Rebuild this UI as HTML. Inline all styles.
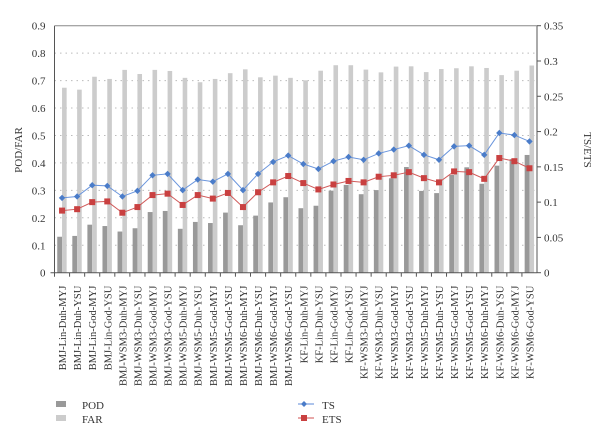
<!DOCTYPE html>
<html><head><meta charset="utf-8"><style>
body{margin:0;background:#fff}
svg{font-family:"Liberation Serif",serif;display:block}
</style></head><body>
<svg id="chart" width="600" height="444" viewBox="0 0 600 444" xmlns="http://www.w3.org/2000/svg">
<g id="grid"></g><g id="bars"></g><g id="lines"></g><g id="axes"></g><g id="labels"></g>
<g>
<rect x="56" y="401" width="10" height="6" fill="#999"/>
<text x="82" y="409" font-size="11" fill="#333">POD</text>
<rect x="56" y="415" width="10" height="6" fill="#ccc"/>
<text x="82" y="423" font-size="11" fill="#333">FAR</text>
<line x1="298" y1="404" x2="314" y2="404" stroke="#5b8ad8" stroke-width="1"/>
<path d="M304,401 L307,404 L304,407 L301,404Z" fill="#4a7cc9"/>
<text x="322" y="409" font-size="11" fill="#333">TS</text>
<line x1="298" y1="418" x2="314" y2="418" stroke="#d05050" stroke-width="1"/>
<rect x="301" y="415" width="6" height="6" fill="#c94040"/>
<text x="322" y="423" font-size="11" fill="#333">ETS</text>
</g>
<text transform="translate(22,150) rotate(-90)" text-anchor="middle" font-size="11" fill="#333">POD/FAR</text>
<text transform="translate(584,150) rotate(90)" text-anchor="middle" font-size="11" fill="#333">TS/ETS</text>
</svg>
<script>
const categories=["BMJ-Lin-Duh-MYJ","BMJ-Lin-Duh-YSU","BMJ-Lin-God-MYJ","BMJ-Lin-God-YSU","BMJ-WSM3-Duh-MYJ","BMJ-WSM3-Duh-YSU","BMJ-WSM3-God-MYJ","BMJ-WSM3-God-YSU","BMJ-WSM5-Duh-MYJ","BMJ-WSM5-Duh-YSU","BMJ-WSM5-God-MYJ","BMJ-WSM5-God-YSU","BMJ-WSM6-Duh-MYJ","BMJ-WSM6-Duh-YSU","BMJ-WSM6-God-MYJ","BMJ-WSM6-God-YSU","KF-Lin-Duh-MYJ","KF-Lin-Duh-YSU","KF-Lin-God-MYJ","KF-Lin-God-YSU","KF-WSM3-Duh-MYJ","KF-WSM3-Duh-YSU","KF-WSM3-God-MYJ","KF-WSM3-God-YSU","KF-WSM5-Duh-MYJ","KF-WSM5-Duh-YSU","KF-WSM5-God-MYJ","KF-WSM5-God-YSU","KF-WSM6-Duh-MYJ","KF-WSM6-Duh-YSU","KF-WSM6-God-MYJ","KF-WSM6-God-YSU"];
const pod=[0.131,0.134,0.175,0.17,0.15,0.162,0.221,0.225,0.16,0.185,0.181,0.219,0.173,0.208,0.256,0.275,0.235,0.244,0.299,0.32,0.286,0.301,0.344,0.385,0.298,0.29,0.356,0.384,0.324,0.39,0.414,0.429];
const far=[0.674,0.667,0.714,0.706,0.739,0.724,0.739,0.735,0.71,0.694,0.706,0.727,0.741,0.712,0.718,0.71,0.701,0.736,0.756,0.756,0.74,0.73,0.751,0.752,0.731,0.742,0.745,0.752,0.746,0.72,0.736,0.755];
const ts=[0.106,0.108,0.124,0.123,0.108,0.116,0.138,0.14,0.117,0.132,0.129,0.14,0.117,0.14,0.157,0.166,0.154,0.147,0.158,0.164,0.16,0.169,0.1745,0.18,0.167,0.16,0.179,0.18,0.167,0.198,0.195,0.186];
const ets=[0.088,0.09,0.1,0.101,0.085,0.093,0.11,0.112,0.096,0.11,0.105,0.113,0.093,0.114,0.128,0.137,0.127,0.118,0.125,0.13,0.128,0.136,0.138,0.1425,0.134,0.128,0.1435,0.1425,0.133,0.1625,0.158,0.148];
const leftTicks=[0,0.1,0.2,0.3,0.4,0.5,0.6,0.7,0.8,0.9];
const rightTicks=[0,0.05,0.1,0.15,0.2,0.25,0.3,0.35];
const NS="http://www.w3.org/2000/svg";
const X0=54.5,X1=537,Y0=272.7,YT=25.7;
const step=(X1-X0)/categories.length;
const xc=i=>X0+step*(i+0.5);
const yL=v=>Y0-(v/0.9)*(Y0-YT);
const yR=v=>Y0-(v/0.35)*(Y0-YT);
function mk(tag,parent,attrs){const e=document.createElementNS(NS,tag);for(const k in attrs)e.setAttribute(k,attrs[k]);document.getElementById(parent).appendChild(e);return e;}
leftTicks.forEach((t,i)=>{
  if(t>0&&t<0.9){const g=mk('line','grid',{x1:X0,x2:X1,y1:yL(t),y2:yL(t),stroke:'#bbb','stroke-dasharray':'1.5,4'});
  
  }
  const tx=mk('text','axes',{x:X0-9,y:yL(t)+4,'text-anchor':'end','font-size':'11',fill:'#333'});
  
  
  tx.textContent=String(t);
});
rightTicks.forEach(t=>{
  const tx=mk('text','axes',{x:X1+7,y:yR(t)+4,'font-size':'11',fill:'#333'});
  
  
  tx.textContent=String(t);
  mk('line','axes',{x1:X1,x2:X1+4,y1:yR(t),y2:yR(t),stroke:'#555'});
});
mk('line','axes',{x1:X0,x2:X0,y1:YT,y2:Y0,stroke:'#555'});
mk('line','axes',{x1:X1,x2:X1,y1:YT,y2:Y0,stroke:'#555'});
mk('line','axes',{x1:X0,x2:X1,y1:YT,y2:YT,stroke:'#888'});
mk('line','axes',{x1:X0-4,x2:X1,y1:Y0,y2:Y0,stroke:'#555'});
categories.forEach((c,i)=>{
  mk('line','axes',{x1:X0+step*i,x2:X0+step*i,y1:Y0,y2:Y0+4,stroke:'#555'});
  const b1=mk('rect','bars',{x:xc(i)-4.8,y:yL(pod[i]),width:4.8,height:Y0-yL(pod[i]),fill:'#999'});
  
  
  const b2=mk('rect','bars',{x:xc(i),y:yL(far[i]),width:4.6,height:Y0-yL(far[i]),fill:'#ccc'});
  
  
  const lb=mk('text','labels',{transform:`translate(${xc(i)+4},${Y0+13}) rotate(-90)`,'text-anchor':'end','font-size':'10.5',fill:'#333'});
  
  
  lb.textContent=c;
});
const tsl=mk('polyline','lines',{points:ts.map((v,i)=>xc(i)+','+yR(v)).join(' '),fill:'none',stroke:'#6a95dc','stroke-width':'1'});


const etl=mk('polyline','lines',{points:ets.map((v,i)=>xc(i)+','+yR(v)).join(' '),fill:'none',stroke:'#d05a5a','stroke-width':'1'});


ts.forEach((v,i)=>{const x=xc(i),y=yR(v);
  const p=mk('path','lines',{d:`M${x},${y-3.2} L${x+3.2},${y} L${x},${y+3.2} L${x-3.2},${y}Z`,fill:'#4a7cc9'});
  
  });
ets.forEach((v,i)=>{const x=xc(i),y=yR(v);
  const p=mk('rect','lines',{x:x-3,y:y-3,width:6,height:6,fill:'#c94040'});
  
  });
</script>
</body></html>
